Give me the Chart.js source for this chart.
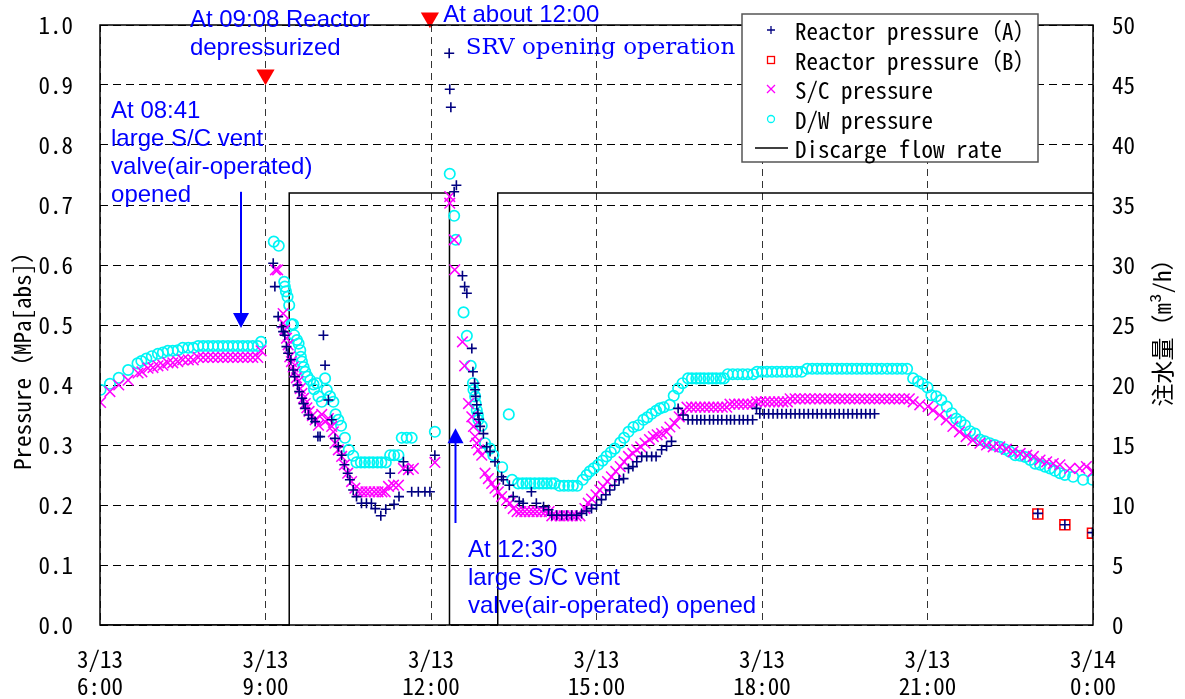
<!DOCTYPE html>
<html>
<head>
<meta charset="utf-8">
<script src="https://cdn.jsdelivr.net/npm/chart.js@4"></script>
<style>
html, body { margin: 0; padding: 0; background: #fff; }
</style>
</head>
<body>
<canvas id="grafico" width="1185" height="699"></canvas>
<script>
// Tiempo en horas desde 3/13 0:00, presion en MPa[abs]
const xTickDates = ['3/13', '3/13', '3/13', '3/13', '3/13', '3/13', '3/14'];
const xTickTimes = ['6:00', '9:00', '12:00', '15:00', '18:00', '21:00', '0:00'];

const reactorA = [
  [9.14,0.603],[9.17,0.564],[9.23,0.514],[9.29,0.497],[9.32,0.489],[9.35,0.483],[9.38,0.464],[9.41,0.453],
  [9.46,0.442],[9.50,0.425],[9.53,0.414],[9.58,0.400],[9.61,0.389],[9.66,0.378],[9.69,0.369],[9.72,0.361],
  [9.78,0.350],[9.84,0.344],[9.90,0.339],[9.95,0.314],[9.99,0.314],[10.05,0.483],[10.08,0.433],[10.14,0.375],
  [10.20,0.342],[10.26,0.311],[10.32,0.297],[10.38,0.283],[10.43,0.267],[10.49,0.253],[10.53,0.242],[10.59,0.225],
  [10.65,0.214],[10.74,0.203],[10.83,0.203],[10.92,0.203],[10.99,0.194],[11.09,0.182],[11.18,0.193],[11.26,0.253],
  [11.33,0.201],[11.42,0.214],[11.50,0.272],[11.58,0.258],[11.65,0.222],[11.77,0.222],[11.89,0.222],[11.98,0.222],
  [12.07,0.283],
  [12.33,0.953],[12.34,0.893],[12.36,0.863],[12.42,0.722],[12.46,0.733],[12.57,0.582],[12.61,0.564],[12.65,0.553],
  [12.74,0.461],[12.76,0.422],[12.79,0.403],[12.80,0.392],[12.81,0.381],[12.83,0.367],[12.85,0.353],[12.87,0.343],
  [12.89,0.331],[12.95,0.319],[13.01,0.297],[13.07,0.289],[13.16,0.272],[13.28,0.247],[13.31,0.242],[13.42,0.233],
  [13.49,0.214],[13.60,0.206],[13.67,0.203],[13.82,0.222],[13.91,0.203],[14.04,0.197],[14.13,0.192],[14.19,0.183],
  [14.28,0.183],[14.37,0.183],[14.46,0.183],[14.55,0.183],[14.64,0.183],[14.73,0.186],[14.82,0.190],[14.91,0.194],
  [15.00,0.200],[15.09,0.209],[15.17,0.217],[15.24,0.225],[15.33,0.233],[15.41,0.242],[15.49,0.244],[15.58,0.261],
  [15.66,0.264],[15.73,0.272],[15.82,0.281],[15.91,0.281],[16.00,0.281],[16.08,0.281],[16.18,0.292],[16.27,0.298],
  [16.36,0.306],[16.48,0.361],[16.57,0.350],
  [16.66,0.342],[16.74,0.342],[16.82,0.342],[16.89,0.342],[16.96,0.342],[17.05,0.342],[17.12,0.342],[17.20,0.342],
  [17.27,0.342],[17.36,0.342],[17.43,0.342],[17.50,0.342],[17.59,0.342],[17.66,0.342],[17.74,0.342],[17.83,0.342],
  [17.90,0.361],
  [17.96,0.352],[18.04,0.352],[18.12,0.352],[18.20,0.352],[18.28,0.352],[18.36,0.352],[18.44,0.352],[18.52,0.352],
  [18.60,0.352],[18.68,0.352],[18.76,0.352],[18.84,0.352],[18.92,0.352],[19.00,0.352],[19.08,0.352],[19.16,0.352],
  [19.24,0.352],[19.32,0.352],[19.40,0.352],[19.48,0.352],[19.56,0.352],[19.64,0.352],[19.72,0.352],[19.80,0.352],
  [19.88,0.352],[19.96,0.352],[20.04,0.352],
  [23.00,0.186],[23.49,0.167],[23.99,0.154]
];

const reactorB = [[23.00,0.185],[23.49,0.167],[23.99,0.153]];

const scPressure = [
  [6.01,0.371],[6.18,0.389],[6.34,0.400],[6.51,0.408],[6.69,0.420],[6.76,0.422],[6.87,0.428],[6.96,0.429],
  [7.05,0.432],[7.14,0.433],[7.23,0.437],[7.32,0.437],[7.41,0.439],[7.50,0.442],[7.60,0.442],[7.69,0.442],
  [7.78,0.446],[7.87,0.446],[7.96,0.446],[8.05,0.446],[8.14,0.446],[8.23,0.446],[8.32,0.446],[8.41,0.446],
  [8.50,0.446],[8.59,0.446],[8.68,0.446],[8.77,0.446],[8.86,0.446],[8.92,0.457],
  [9.18,0.592],[9.22,0.592],[9.32,0.519],[9.32,0.503],[9.35,0.492],[9.38,0.478],[9.41,0.467],[9.44,0.447],
  [9.47,0.439],[9.50,0.430],[9.53,0.422],[9.56,0.412],[9.59,0.406],[9.63,0.394],[9.66,0.386],[9.69,0.378],
  [9.72,0.369],[9.75,0.362],[9.79,0.356],[9.85,0.349],[9.90,0.342],[9.96,0.333],[10.02,0.351],[10.08,0.339],
  [10.14,0.344],[10.20,0.331],[10.23,0.322],[10.26,0.303],[10.32,0.292],[10.38,0.281],[10.43,0.267],[10.49,0.253],
  [10.56,0.239],[10.62,0.228],[10.68,0.222],[10.75,0.222],[10.82,0.222],[10.89,0.222],[10.97,0.222],[11.04,0.222],
  [11.11,0.222],[11.17,0.222],[11.23,0.231],[11.32,0.233],[11.41,0.233],[11.50,0.261],[11.59,0.259],[11.68,0.261],
  [12.07,0.271],
  [12.34,0.714],[12.34,0.703],[12.42,0.642],[12.43,0.592],[12.57,0.472],[12.61,0.432],[12.68,0.369],[12.74,0.347],
  [12.77,0.331],[12.80,0.314],[12.83,0.303],[12.86,0.292],[12.92,0.283],[12.98,0.253],[13.04,0.244],[13.10,0.236],
  [13.16,0.228],[13.22,0.222],[13.28,0.214],[13.37,0.208],[13.43,0.203],[13.49,0.194],[13.56,0.189],[13.63,0.189],
  [13.70,0.189],[13.78,0.189],[13.85,0.189],[13.92,0.189],[14.00,0.189],[14.07,0.189],[14.14,0.189],[14.19,0.182],
  [14.27,0.182],[14.34,0.182],[14.41,0.182],[14.48,0.182],[14.56,0.182],[14.63,0.182],[14.70,0.182],[14.79,0.194],
  [14.85,0.203],[14.91,0.210],[14.99,0.217],[15.06,0.225],[15.12,0.231],[15.20,0.239],[15.27,0.247],[15.35,0.256],
  [15.43,0.264],[15.50,0.272],[15.58,0.281],[15.66,0.286],[15.73,0.292],[15.80,0.297],[15.88,0.303],[15.96,0.309],
  [16.03,0.314],[16.10,0.317],[16.18,0.319],[16.27,0.322],[16.33,0.330],[16.42,0.336],[16.50,0.347],[16.57,0.356],
  [16.64,0.363],[16.72,0.363],[16.80,0.363],[16.88,0.363],[16.96,0.363],[17.04,0.363],[17.12,0.363],[17.20,0.363],
  [17.28,0.363],[17.36,0.363],[17.42,0.368],[17.50,0.368],[17.58,0.368],[17.66,0.368],[17.74,0.368],[17.82,0.368],
  [17.90,0.372],[17.98,0.372],[18.06,0.372],[18.14,0.372],[18.22,0.372],[18.30,0.372],[18.38,0.372],[18.46,0.372],
  [18.51,0.377],[18.60,0.377],[18.69,0.377],[18.78,0.377],[18.87,0.377],[18.96,0.377],[19.05,0.377],[19.14,0.377],
  [19.23,0.377],[19.32,0.377],[19.41,0.377],[19.50,0.377],[19.59,0.377],[19.68,0.377],[19.77,0.377],[19.86,0.377],
  [19.95,0.377],[20.04,0.377],[20.13,0.377],[20.22,0.377],[20.31,0.377],[20.40,0.377],[20.49,0.377],[20.58,0.377],
  [20.67,0.377],
  [20.74,0.372],[20.86,0.367],[21.01,0.364],[21.10,0.358],[21.22,0.350],[21.34,0.342],[21.46,0.331],[21.58,0.322],
  [21.70,0.314],[21.82,0.308],[21.95,0.303],[22.07,0.300],[22.19,0.297],[22.31,0.297],[22.43,0.293],[22.55,0.289],
  [22.68,0.286],[22.80,0.283],[22.92,0.281],[23.04,0.275],[23.16,0.272],[23.28,0.269],[23.40,0.267],[23.58,0.261],
  [23.76,0.261],[23.88,0.264],[24.00,0.256]
];

const dwPressure = [
  [6.01,0.392],[6.18,0.402],[6.34,0.412],[6.51,0.425],[6.68,0.436],[6.75,0.440],[6.84,0.444],[6.94,0.448],
  [7.05,0.452],[7.14,0.454],[7.23,0.457],[7.32,0.457],[7.41,0.458],[7.50,0.462],[7.60,0.462],[7.69,0.462],
  [7.78,0.465],[7.87,0.465],[7.96,0.465],[8.05,0.465],[8.14,0.465],[8.23,0.465],[8.32,0.465],[8.41,0.465],
  [8.50,0.465],[8.59,0.465],[8.68,0.465],[8.77,0.465],[8.86,0.465],[8.92,0.472],
  [9.15,0.639],[9.24,0.632],[9.34,0.572],[9.35,0.564],[9.37,0.556],[9.40,0.547],[9.43,0.533],[9.47,0.501],
  [9.50,0.501],[9.52,0.483],[9.57,0.475],[9.60,0.469],[9.63,0.458],[9.64,0.447],[9.66,0.439],[9.69,0.430],
  [9.72,0.422],[9.76,0.414],[9.81,0.408],[9.87,0.401],[9.88,0.393],[9.93,0.403],[9.96,0.381],[10.02,0.372],
  [10.08,0.411],[10.11,0.392],[10.17,0.381],[10.23,0.372],[10.27,0.351],[10.32,0.342],[10.37,0.332],[10.44,0.312],
  [10.51,0.292],[10.59,0.282],[10.65,0.271],[10.73,0.271],[10.80,0.271],[10.88,0.271],[10.95,0.271],[11.03,0.271],
  [11.10,0.271],[11.18,0.271],[11.26,0.283],[11.33,0.283],[11.41,0.283],[11.47,0.312],[11.56,0.312],[11.65,0.312],
  [12.07,0.322],
  [12.34,0.752],[12.42,0.682],[12.45,0.642],[12.59,0.521],[12.65,0.482],[12.72,0.432],[12.76,0.403],[12.77,0.392],
  [12.80,0.381],[12.81,0.369],[12.83,0.358],[12.85,0.350],[12.86,0.342],[12.92,0.332],[12.98,0.303],[13.07,0.294],
  [13.13,0.283],[13.29,0.263],[13.41,0.351],[13.47,0.242],[13.58,0.236],[13.66,0.236],[13.73,0.236],[13.80,0.236],
  [13.88,0.236],[13.96,0.236],[14.03,0.236],[14.10,0.236],[14.18,0.236],[14.24,0.236],[14.33,0.232],[14.41,0.232],
  [14.49,0.232],[14.57,0.232],[14.65,0.232],[14.75,0.242],[14.82,0.250],[14.88,0.256],[14.95,0.261],[15.03,0.267],
  [15.11,0.274],[15.18,0.281],[15.26,0.288],[15.33,0.294],[15.43,0.304],[15.50,0.312],[15.58,0.322],[15.67,0.330],
  [15.76,0.333],[15.85,0.342],[15.92,0.346],[16.00,0.352],[16.08,0.357],[16.15,0.361],[16.22,0.363],[16.33,0.367],
  [16.40,0.382],[16.48,0.394],[16.56,0.403],
  [16.66,0.411],[16.73,0.411],[16.81,0.411],[16.88,0.411],[16.95,0.411],[17.03,0.411],[17.10,0.411],[17.17,0.411],
  [17.25,0.411],[17.31,0.411],[17.38,0.418],[17.47,0.418],[17.56,0.418],[17.65,0.418],[17.74,0.418],[17.84,0.418],
  [17.91,0.422],[18.00,0.422],[18.09,0.422],[18.18,0.422],[18.27,0.422],[18.36,0.422],[18.45,0.422],[18.54,0.422],
  [18.63,0.422],[18.72,0.422],[18.82,0.427],[18.91,0.427],[19.00,0.427],[19.09,0.427],[19.18,0.427],[19.27,0.427],
  [19.36,0.427],[19.45,0.427],[19.54,0.427],[19.63,0.427],[19.72,0.427],[19.81,0.427],[19.90,0.427],[19.99,0.427],
  [20.08,0.427],[20.17,0.427],[20.27,0.427],[20.36,0.427],[20.45,0.427],[20.54,0.427],[20.63,0.427],
  [20.74,0.411],[20.83,0.406],[20.91,0.402],[21.00,0.396],[21.07,0.383],[21.16,0.381],[21.25,0.375],[21.35,0.364],
  [21.44,0.353],[21.52,0.344],[21.60,0.339],[21.68,0.333],[21.77,0.323],[21.86,0.319],[21.95,0.309],[22.04,0.306],
  [22.13,0.303],[22.22,0.300],[22.31,0.297],[22.40,0.293],[22.49,0.289],[22.59,0.283],[22.68,0.282],[22.77,0.280],
  [22.86,0.275],[22.95,0.269],[23.04,0.267],[23.13,0.264],[23.22,0.261],[23.31,0.257],[23.40,0.253],[23.49,0.250],
  [23.64,0.247],[23.82,0.242],[23.99,0.242]
];

// Caudal de descarga (m3/h), eje derecho
const flowTimes = [6.0, 9.43, 9.43, 12.335, 12.335, 13.21, 13.21, 24.0];
const flowRates = [0, 0, 36, 36, 0, 0, 36, 36];

// Marcas rojas de eventos
const eventTimes = [9.0, 11.98];
const eventLevels = [0.917, 1.012];

const seriesNames = ['Reactor pressure（A）', 'Reactor pressure（B）', 'S/C pressure', 'D/W pressure', 'Discarge flow rate'];

const fontMono = "'Noto Sans Mono CJK JP', 'Noto Sans CJK JP', sans-serif";
const fontNote = '24px "Liberation Sans", Arial, sans-serif';
const fontSerif = '23px "DejaVu Serif", "Liberation Serif", serif';

const notas = [
  { lines: ['At 09:08 Reactor', 'depressurized'], t: 7.63, p: 0.997, font: fontNote },
  { lines: ['At 08:41', 'large S/C vent', 'valve(air-operated)', 'opened'], t: 6.20, p: 0.845, font: fontNote },
  { lines: ['At about 12:00'], t: 12.22, p: 1.005, font: fontNote },
  { lines: ['SRV opening operation'], t: 12.63, p: 0.952, font: fontSerif },
  { lines: ['At 12:30', 'large S/C vent', 'valve(air-operated) opened'], t: 12.67, p: 0.113, font: fontNote }
];
const flechas = [
  { t: 8.556, desde: 0.722, hasta: 0.495 },
  { t: 12.444, desde: 0.170, hasta: 0.328 }
];

const toXY = arr => arr.map(([x, y]) => ({ x: x, y: y }));

const decoraciones = {
  id: 'decoraciones',
  afterDatasetsDraw(chart) {
    const ctx = chart.ctx;
    const xs = chart.scales.x, ys = chart.scales.y;
    const a = chart.chartArea;
    ctx.save();
    // marco
    ctx.strokeStyle = '#000';
    ctx.lineWidth = 1.5;
    ctx.strokeRect(a.left, a.top, a.right - a.left, a.bottom - a.top);
    // flechas azules
    ctx.strokeStyle = '#0000ff';
    ctx.fillStyle = '#0000ff';
    flechas.forEach(f => {
      const x = xs.getPixelForValue(f.t);
      const y0 = ys.getPixelForValue(f.desde);
      const y1 = ys.getPixelForValue(f.hasta);
      const dir = y1 > y0 ? 1 : -1;
      ctx.lineWidth = 2;
      ctx.beginPath();
      ctx.moveTo(x, y0);
      ctx.lineTo(x, y1 - dir * 14);
      ctx.stroke();
      ctx.beginPath();
      ctx.moveTo(x, y1);
      ctx.lineTo(x - 8, y1 - dir * 15);
      ctx.lineTo(x + 8, y1 - dir * 15);
      ctx.closePath();
      ctx.fill();
    });
    // textos
    ctx.textAlign = 'left';
    ctx.textBaseline = 'alphabetic';
    notas.forEach(n => {
      ctx.font = n.font;
      const x = xs.getPixelForValue(n.t);
      const y = ys.getPixelForValue(n.p);
      n.lines.forEach((l, i) => ctx.fillText(l, x, y + i * 28));
    });
    // titulos de ejes
    ctx.fillStyle = '#000';
    ctx.font = '23px ' + fontMono;
    ctx.textAlign = 'center';
    ctx.textBaseline = 'middle';
    ctx.save();
    ctx.translate(22, 355);
    ctx.rotate(-Math.PI / 2);
    ctx.fillText('Pressure（MPa[abs]）', 0, 0);
    ctx.restore();
    ctx.save();
    ctx.translate(1162, 327);
    ctx.rotate(-Math.PI / 2);
    ctx.fillText('注水量（m³/h）', 0, 0);
    ctx.restore();
    ctx.restore();
  },
  afterDraw(chart) {
    // leyenda
    const ctx = chart.ctx;
    ctx.save();
    ctx.fillStyle = '#fff';
    ctx.fillRect(742, 14, 296, 148);
    ctx.strokeStyle = '#555';
    ctx.lineWidth = 1.5;
    ctx.strokeRect(742, 14, 296, 148);
    const filas = [30, 60, 89, 119, 148];
    const mx = 771;
    // +
    ctx.lineWidth = 1.3;
    ctx.strokeStyle = '#000080';
    ctx.beginPath();
    ctx.moveTo(mx - 4, filas[0]); ctx.lineTo(mx + 4, filas[0]);
    ctx.moveTo(mx, filas[0] - 4); ctx.lineTo(mx, filas[0] + 4);
    ctx.stroke();
    // cuadrado
    ctx.strokeStyle = '#ff0000';
    ctx.strokeRect(mx - 3.5, filas[1] - 3.5, 7, 7);
    // x
    ctx.strokeStyle = '#ff00ff';
    ctx.beginPath();
    ctx.moveTo(mx - 4, filas[2] - 4); ctx.lineTo(mx + 4, filas[2] + 4);
    ctx.moveTo(mx + 4, filas[2] - 4); ctx.lineTo(mx - 4, filas[2] + 4);
    ctx.stroke();
    // circulo
    ctx.strokeStyle = '#00f5f5';
    ctx.beginPath();
    ctx.arc(mx, filas[3], 3.5, 0, Math.PI * 2);
    ctx.stroke();
    // linea
    ctx.strokeStyle = '#000';
    ctx.lineWidth = 1.5;
    ctx.beginPath();
    ctx.moveTo(755, filas[4]); ctx.lineTo(788, filas[4]);
    ctx.stroke();
    ctx.fillStyle = '#000';
    ctx.font = '23px ' + fontMono;
    ctx.textAlign = 'left';
    ctx.textBaseline = 'middle';
    seriesNames.forEach((s, i) => ctx.fillText(s, 795, filas[i] + 1));
    ctx.restore();
  }
};

new Chart(document.getElementById('grafico'), {
  type: 'scatter',
  data: {
    datasets: [
      {
        label: seriesNames[0], data: toXY(reactorA), yAxisID: 'y',
        pointStyle: 'cross', radius: 5, borderColor: '#000080', borderWidth: 1.6
      },
      {
        label: seriesNames[1], data: toXY(reactorB), yAxisID: 'y',
        pointStyle: 'rect', radius: 7, borderColor: '#ff0000', backgroundColor: 'rgba(0,0,0,0)', borderWidth: 1.6
      },
      {
        label: seriesNames[2], data: toXY(scPressure), yAxisID: 'y',
        pointStyle: 'crossRot', radius: 7.5, borderColor: '#ff00ff', borderWidth: 1.5
      },
      {
        label: seriesNames[3], data: toXY(dwPressure), yAxisID: 'y',
        pointStyle: 'circle', radius: 5.2, borderColor: '#00f5f5', backgroundColor: 'rgba(0,0,0,0)', borderWidth: 1.7
      },
      {
        type: 'line', label: seriesNames[4], yAxisID: 'y1',
        data: flowTimes.map((t, i) => ({ x: t, y: flowRates[i] })),
        borderColor: '#000', borderWidth: 1.5, pointRadius: 0, tension: 0, fill: false
      },
      {
        label: 'eventos', yAxisID: 'y', clip: false,
        data: eventTimes.map((t, i) => ({ x: t, y: eventLevels[i] })),
        pointStyle: 'triangle', rotation: 180, radius: 10.5,
        backgroundColor: '#ff0000', borderColor: '#ff0000', borderWidth: 0
      }
    ]
  },
  options: {
    responsive: false,
    devicePixelRatio: 1,
    animation: false,
    events: [],
    layout: { padding: { top: 25, left: 0, right: 0, bottom: 0 } },
    plugins: {
      legend: { display: false },
      tooltip: { enabled: false },
      title: { display: false }
    },
    scales: {
      x: {
        type: 'linear', min: 6, max: 24,
        afterFit: s => { s.height = 74; s.paddingLeft = 0; s.paddingRight = 0; },
        grid: { color: '#333', lineWidth: 1, drawTicks: false },
        border: { display: false, dash: [7, 5] },
        ticks: {
          stepSize: 3, padding: 20, color: '#000', maxRotation: 0,
          font: { family: fontMono, size: 23, lineHeight: 1.2 },
          callback: v => { const i = Math.round((v - 6) / 3); return [xTickDates[i], xTickTimes[i]]; }
        }
      },
      y: {
        position: 'left', min: 0, max: 1,
        afterFit: s => { s.width = 100; s.paddingTop = 0; s.paddingBottom = 0; },
        grid: { color: '#000', lineWidth: 1, drawTicks: false },
        border: { display: false, dash: [8, 5] },
        ticks: {
          stepSize: 0.1, padding: 27, color: '#000',
          font: { family: fontMono, size: 23 },
          callback: v => v.toFixed(1)
        }
      },
      y1: {
        position: 'right', min: 0, max: 50,
        afterFit: s => { s.width = 92; s.paddingTop = 0; s.paddingBottom = 0; },
        grid: { display: false, drawTicks: false },
        border: { display: false },
        ticks: {
          stepSize: 5, padding: 19, color: '#000',
          font: { family: fontMono, size: 23 }
        }
      }
    }
  },
  plugins: [decoraciones]
});
</script>
</body>
</html>
